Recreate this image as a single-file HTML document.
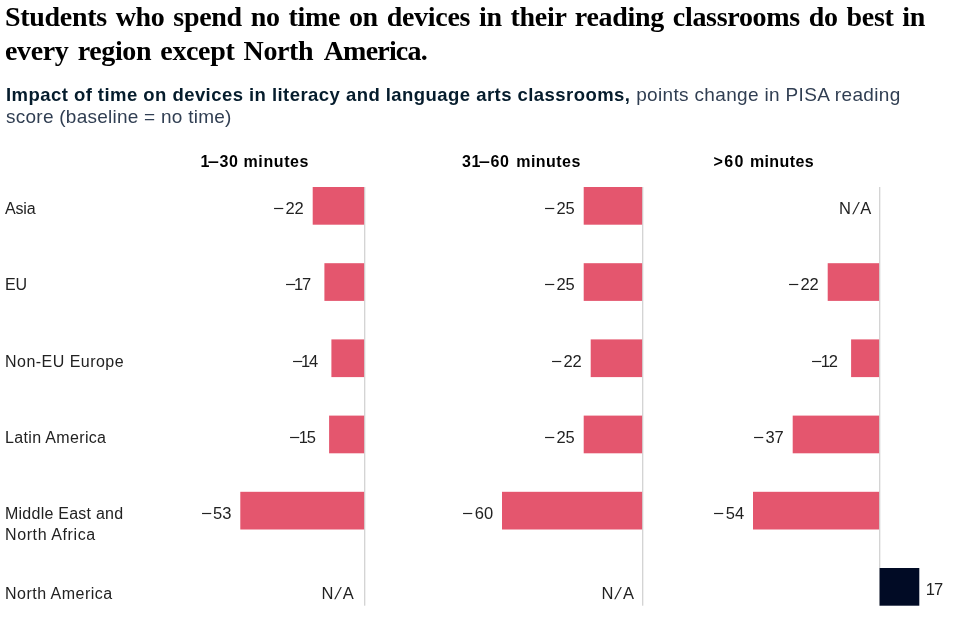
<!DOCTYPE html>
<html lang="en"><head><meta charset="utf-8"><title>Impact of time on devices</title>
<style>
html,body{margin:0;padding:0;background:#fff;}
body{width:968px;height:623px;position:relative;overflow:hidden;font-family:"Liberation Sans",Arial,sans-serif;}
.title{position:absolute;left:5px;top:0px;margin:0;font-family:"Liberation Serif","Times New Roman",serif;font-weight:bold;font-size:28px;line-height:34px;color:#000;white-space:nowrap;}
.title span{display:block;}
#t1{letter-spacing:-0.3px;word-spacing:2.1px;}
#t2{letter-spacing:-0.37px;word-spacing:2.6px;}
.sub{position:absolute;left:6px;top:84px;font-size:18.5px;line-height:22px;color:#051C2C;white-space:nowrap;}
.sub b{font-weight:bold;color:#051C2C;letter-spacing:0.45px;}
.sub span{color:#303e52;}
#s1r{letter-spacing:0.34px;font-size:19px;margin-left:0.6px;}
#s2r{letter-spacing:0.25px;font-size:19px;}
.hd{position:absolute;top:153px;font-size:16px;line-height:18px;font-weight:bold;color:#000;white-space:nowrap;letter-spacing:0.6px;}
.d{display:inline-block;transform:scaleX(1.25);transform-origin:100% 50%;}
.lab{position:absolute;left:5px;font-size:16px;line-height:21px;color:#222;white-space:nowrap;}
.v{position:absolute;font-size:16.5px;line-height:21px;color:#222;white-space:nowrap;letter-spacing:0px;}
.v.n{letter-spacing:1.8px;}
.m{display:inline-block;transform:scaleX(1.15);transform-origin:0 50%;margin-right:2.8px;letter-spacing:0;}
.m.m1{margin-right:-0.4px;}
.o{letter-spacing:-1.1px;}
.sl{display:inline-block;transform:skewX(-14deg);transform-origin:0 80%;margin:0 3.9px 0 0.9px;}
svg{position:absolute;left:0;top:0;}
</style></head><body>
<h1 class="title"><span id="t1">Students who spend no time on devices in their reading classrooms do best in</span><span id="t2">every region except North <span style="display:inline;letter-spacing:-0.8px;margin-left:1.2px">America.</span></span></h1>
<div class="sub"><div id="s1"><b id="s1b">Impact of time on devices in literacy and language arts classrooms,</b> <span id="s1r">points change in PISA reading</span></div><div id="s2"><span id="s2r">score (baseline = no time)</span></div></div>
<div class="hd" id="h1" style="left:200.5px">1<span class="d">–</span>30 minutes</div>
<div class="hd" id="h2" style="left:462px;word-spacing:1.7px">31<span class="d">–</span>60 <span style="letter-spacing:0.45px">minutes</span></div>
<div class="hd" id="h3" style="left:713.5px"><span style="letter-spacing:1.4px">&gt;60</span> <span style="letter-spacing:0.4px">minutes</span></div>
<svg width="968" height="623" viewBox="0 0 968 623">
<rect x="364.15" y="187" width="1.15" height="418.7" fill="#cdcdcd"/>
<rect x="642.15" y="187" width="1.15" height="418.7" fill="#cdcdcd"/>
<rect x="879.15" y="187" width="1.15" height="418.7" fill="#cdcdcd"/>
<rect x="312.7" y="187.0" width="51.4" height="37.7" fill="#E4566E"/>
<rect x="324.4" y="263.2" width="39.7" height="37.7" fill="#E4566E"/>
<rect x="331.4" y="339.4" width="32.7" height="37.7" fill="#E4566E"/>
<rect x="329.1" y="415.6" width="35.0" height="37.7" fill="#E4566E"/>
<rect x="240.3" y="491.8" width="123.8" height="37.7" fill="#E4566E"/>
<rect x="583.7" y="187.0" width="58.4" height="37.7" fill="#E4566E"/>
<rect x="583.7" y="263.2" width="58.4" height="37.7" fill="#E4566E"/>
<rect x="590.7" y="339.4" width="51.4" height="37.7" fill="#E4566E"/>
<rect x="583.7" y="415.6" width="58.4" height="37.7" fill="#E4566E"/>
<rect x="502.0" y="491.8" width="140.1" height="37.7" fill="#E4566E"/>
<rect x="827.7" y="263.2" width="51.4" height="37.7" fill="#E4566E"/>
<rect x="851.1" y="339.4" width="28.0" height="37.7" fill="#E4566E"/>
<rect x="792.7" y="415.6" width="86.4" height="37.7" fill="#E4566E"/>
<rect x="753.0" y="491.8" width="126.1" height="37.7" fill="#E4566E"/>
<rect x="879.6" y="568.0" width="39.7" height="37.7" fill="#010B25"/>
</svg>
<div class="lab" style="top:198.0px;letter-spacing:-0.2px">Asia</div>
<div class="lab" style="top:274.0px;letter-spacing:-0.2px">EU</div>
<div class="lab" style="top:351.0px;letter-spacing:0.47px">Non-EU Europe</div>
<div class="lab" style="top:427.0px;letter-spacing:0.34px">Latin America</div>
<div class="lab" style="top:503.0px"><span style="letter-spacing:0.24px">Middle East and</span><br><span style="letter-spacing:0.6px">North Africa</span></div>
<div class="lab" style="top:583.0px;letter-spacing:0.48px">North America</div>
<div class="v" style="left:273.0px;top:198.0px"><span class="m">−</span>22</div>
<div class="v" style="left:284.7px;top:274.0px"><span class="m m1">−</span><span class="o">1</span>7</div>
<div class="v" style="left:291.7px;top:351.0px"><span class="m m1">−</span><span class="o">1</span>4</div>
<div class="v" style="left:289.4px;top:427.0px"><span class="m m1">−</span><span class="o">1</span>5</div>
<div class="v" style="left:200.6px;top:503.0px"><span class="m">−</span>53</div>
<div class="v" style="right:614.2px;top:583.0px">N<span class="sl">/</span>A</div>
<div class="v" style="left:544.0px;top:198.0px"><span class="m">−</span>25</div>
<div class="v" style="left:544.0px;top:274.0px"><span class="m">−</span>25</div>
<div class="v" style="left:551.0px;top:351.0px"><span class="m">−</span>22</div>
<div class="v" style="left:544.0px;top:427.0px"><span class="m">−</span>25</div>
<div class="v" style="left:462.3px;top:503.0px"><span class="m">−</span>60</div>
<div class="v" style="right:334.1px;top:583.0px">N<span class="sl">/</span>A</div>
<div class="v" style="right:96.8px;top:198.0px">N<span class="sl">/</span>A</div>
<div class="v" style="left:788.0px;top:274.0px"><span class="m">−</span>22</div>
<div class="v" style="left:811.4px;top:351.0px"><span class="m m1">−</span><span class="o">1</span>2</div>
<div class="v" style="left:753.0px;top:427.0px"><span class="m">−</span>37</div>
<div class="v" style="left:713.3px;top:503.0px"><span class="m">−</span>54</div>
<div class="v" style="left:925.8px;top:578.6px"><span class="o">1</span>7</div>
</body></html>
